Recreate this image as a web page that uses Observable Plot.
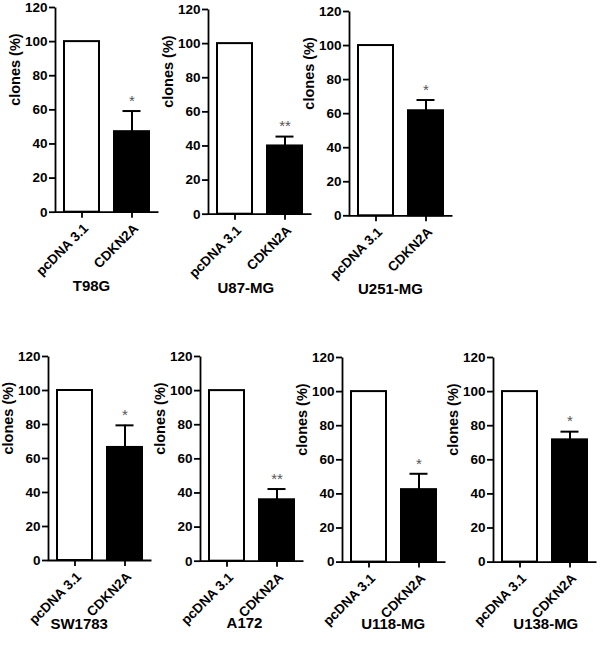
<!DOCTYPE html>
<html><head><meta charset="utf-8">
<script src="https://cdn.jsdelivr.net/npm/d3@7"></script>
<script src="https://cdn.jsdelivr.net/npm/@observablehq/plot@0.6"></script>
<style>
html,body{margin:0;padding:0;background:#fff}
#root{position:relative;width:600px;height:648px;overflow:hidden;font-family:"Liberation Sans",Arial,sans-serif}
</style></head><body><div id="root"></div>
<script>
// ---- data ----
const cellLines = ["T98G", "U87-MG", "U251-MG", "SW1783", "A172", "U118-MG", "U138-MG"];
const groups = ["pcDNA 3.1", "CDKN2A"];
const controlValues = [100, 100, 100, 100, 100, 100, 100];
const cdkn2aValues = [47.2, 40, 61.7, 66.5, 36, 42.5, 71.7];
const cdkn2aErrors = [12.1, 5.5, 6.3, 13, 6.3, 9.3, 4.8];
const significance = ["*", "**", "*", "*", "**", "*", "*"];
const yTicks = [0, 20, 40, 60, 80, 100, 120];
const yLabel = "clones (%)";

// ---- layout (pixel placement of each panel) ----
const layout = [
  {axisX: 55,    y120: 7.3,   y0: 212,   tx: 91,    ty: 291},
  {axisX: 207.7, y120: 9.3,   y0: 214,   tx: 245,   ty: 293},
  {axisX: 349,   y120: 10.7,  y0: 215,   tx: 390,   ty: 293},
  {axisX: 48.3,  y120: 356,   y0: 560,   tx: 79,    ty: 628},
  {axisX: 200,   y120: 356,   y0: 560.7, tx: 244,   ty: 628},
  {axisX: 342.3, y120: 356.7, y0: 561.3, tx: 393,   ty: 628},
  {axisX: 492.7, y120: 356.7, y0: 561.3, tx: 545,   ty: 628}
];

const FONT = '"Liberation Sans", Arial, sans-serif';
const ML = 48, MR = 6, MT = 10, MB = 90, PW = 103;
const root = document.getElementById("root");

cellLines.forEach((name, i) => {
  const L = layout[i];
  const h = L.y0 - L.y120;
  const bars = groups.map((g, j) => ({
    group: g,
    value: j === 0 ? controlValues[i] : cdkn2aValues[i],
    fill: j === 0 ? "white" : "black"
  }));
  const err = [{
    group: groups[1],
    value: cdkn2aValues[i],
    top: cdkn2aValues[i] + cdkn2aErrors[i],
    star: significance[i]
  }];
  const plot = Plot.plot({
    width: ML + PW + MR,
    height: MT + h + MB,
    marginLeft: ML, marginRight: MR, marginTop: MT, marginBottom: MB,
    style: {fontFamily: FONT, fontSize: "13px", fontWeight: "bold", color: "black", background: "transparent", overflow: "visible"},
    x: {domain: groups, paddingInner: 0.3, paddingOuter: 0.16, axis: null},
    y: {domain: [0, 120], axis: null},
    color: {type: "identity"},
    marks: [
      Plot.barY(bars, {x: "group", y: "value", fill: "fill", stroke: "black", strokeWidth: 2}),
      Plot.ruleX(err, {x: "group", y1: "value", y2: "top", stroke: "black", strokeWidth: 2}),
      Plot.tickY(err, {x: "group", y: "top", stroke: "black", strokeWidth: 2, insetLeft: 8.5, insetRight: 8.5}),
      Plot.text(err, {x: "group", y: "top", text: "star", dy: -10, fill: "#555", fontSize: 15, fontWeight: "normal"}),
      Plot.frame({stroke: "black", strokeWidth: 1.8, strokeDasharray: `0 ${PW + h} ${PW + h}`}),
      Plot.axisY({ticks: yTicks, tickSize: 6, tickPadding: 2, strokeWidth: 1.8, label: null, fontWeight: "bold", fontSize: 13.5}),
      Plot.axisX({tickSize: 6, tickFormat: () => "", strokeWidth: 1.8, label: null}),
      Plot.axisX({tickSize: 0, tickPadding: 14, tickRotate: -45, dx: 4, label: null, fontWeight: "bold", fontSize: 13.5}),
      Plot.text([name], {frameAnchor: "bottom", text: d => d, dx: L.tx - (L.axisX + PW / 2), dy: L.ty - L.y0, fontSize: 15, fontWeight: "bold"}),
      Plot.text([yLabel], {frameAnchor: "left", text: d => d, rotate: -90, dx: -40, dy: -4, fontSize: 14.5, fontWeight: "bold"})
    ]
  });
  plot.style.position = "absolute";
  plot.style.left = (L.axisX - ML) + "px";
  plot.style.top = (L.y120 - MT) + "px";
  root.appendChild(plot);
});
</script>
</body></html>
